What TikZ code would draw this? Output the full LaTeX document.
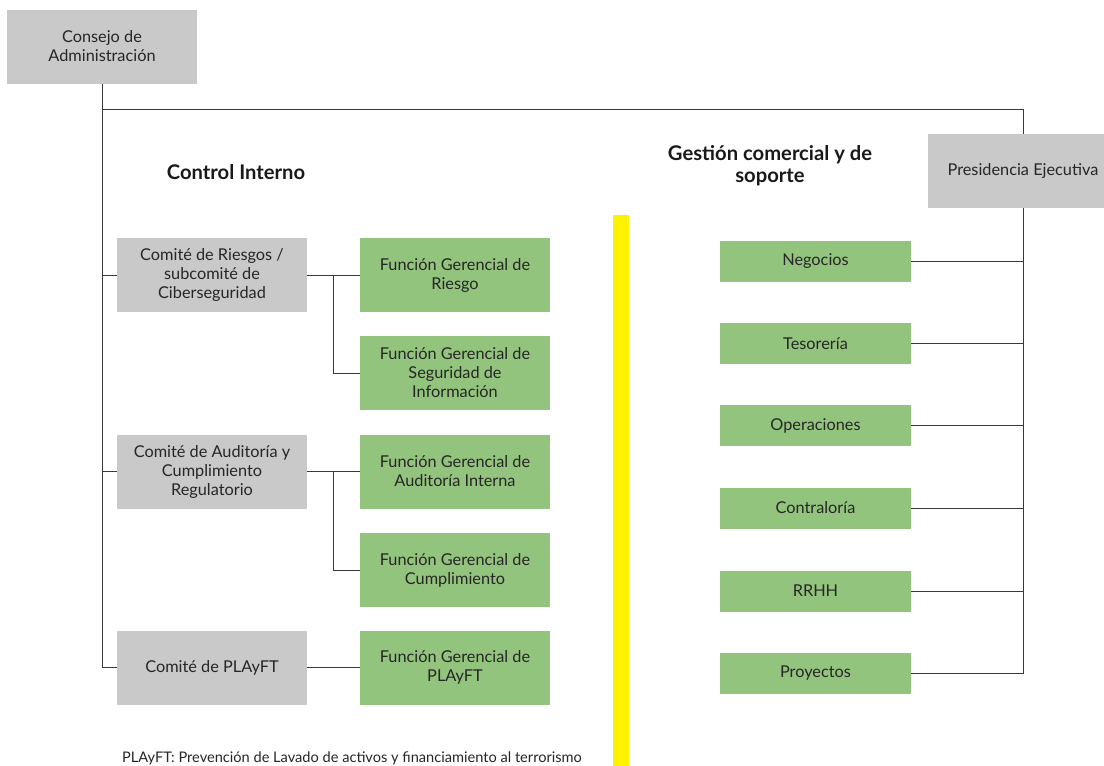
\documentclass[tikz,border=0pt]{standalone}
\usepackage{fontspec}
\setmainfont{Lato}
\usetikzlibrary{calc}
\definecolor{boxgray}{HTML}{C9C9C9}
\definecolor{boxgreen}{HTML}{93C47D}
\definecolor{linec}{HTML}{383838}
\begin{document}
\begin{tikzpicture}[x=1pt,y=-1pt,
  txt/.style={align=center, inner sep=2pt, font=\fontsize{16.3}{19}\selectfont, text=black!85},
  gbox/.style={rectangle, fill=boxgray, minimum width=190pt, minimum height=74pt, txt},
  fbox/.style={rectangle, fill=boxgreen, minimum width=190pt, minimum height=74pt, txt},
  sbox/.style={rectangle, fill=boxgreen, minimum width=191pt, minimum height=41pt, txt},
  conn/.style={draw=linec, line width=0.9pt},
  head/.style={font=\bfseries\fontsize{20.2}{22}\selectfont, align=center, text=black!90}]
\useasboundingbox (0,0) rectangle (1104,766);
\fill[white] (0,0) rectangle (1104,766);
% yellow divider
\fill[yellow] (613,215) rectangle (629,770);
% nodes
\node[gbox] (cons) at (102,46.5) {Consejo de\\Administración};
\node[gbox] (pres) at (1023,171) {Presidencia Ejecutiva};
\node[head] (ci) at (236,172) {Control Interno};
\node[head] (gc) at (770,166) {Gestión comercial y de\\soporte};
\node[gbox] (crie) at (212,275) {Comité de Riesgos /\\subcomité de\\Ciberseguridad};
\node[gbox] (caud) at (212,471.5) {Comité de Auditoría y\\Cumplimiento\\Regulatorio};
\node[gbox] (cpla) at (212,667.5) {Comité de PLAyFT};
\node[fbox] (frie) at (455,275) {Función Gerencial de\\Riesgo};
\node[fbox] (fseg) at (455,373) {Función Gerencial de\\Seguridad de\\Información};
\node[fbox] (faud) at (455,471.5) {Función Gerencial de\\Auditoría Interna};
\node[fbox] (fcum) at (455,570) {Función Gerencial de\\Cumplimiento};
\node[fbox] (fpla) at (455,667.5) {Función Gerencial de\\PLAyFT};
\node[sbox] (neg) at (815.5,261.5) {Negocios};
\node[sbox] (tes) at (815.5,343.5) {Tesorería};
\node[sbox] (ope) at (815.5,425.5) {Operaciones};
\node[sbox] (con) at (815.5,508) {Contraloría};
\node[sbox] (rrh) at (815.5,591) {RRHH};
\node[sbox] (pro) at (815.5,673) {Proyectos};
\node[font=\fontsize{14.6}{16}\selectfont, text=black!85] (note) at (352,758) {PLAyFT: Prevención de Lavado de activos y financiamiento al terrorismo};
% connectors
\coordinate (top) at (101,109);
\draw[conn] (cons.south) |- (cpla.west);
\draw[conn] (cons.south |- top) -| (pres.north);
\draw[conn] (cons.south |- crie.west) -- (crie.west);
\draw[conn] (cons.south |- caud.west) -- (caud.west);
\draw[conn] (crie.east) -- (frie.west);
\draw[conn] ($(crie.east)!.5!(frie.west)$) |- (fseg.west);
\draw[conn] (caud.east) -- (faud.west);
\draw[conn] ($(caud.east)!.5!(faud.west)$) |- (fcum.west);
\draw[conn] (cpla.east) -- (fpla.west);
\draw[conn] (pres.south) |- (pro.east);
\foreach \n in {neg,tes,ope,con,rrh}{\draw[conn] (\n.east) -- (\n.east -| pres.south);}
\end{tikzpicture}
\end{document}
